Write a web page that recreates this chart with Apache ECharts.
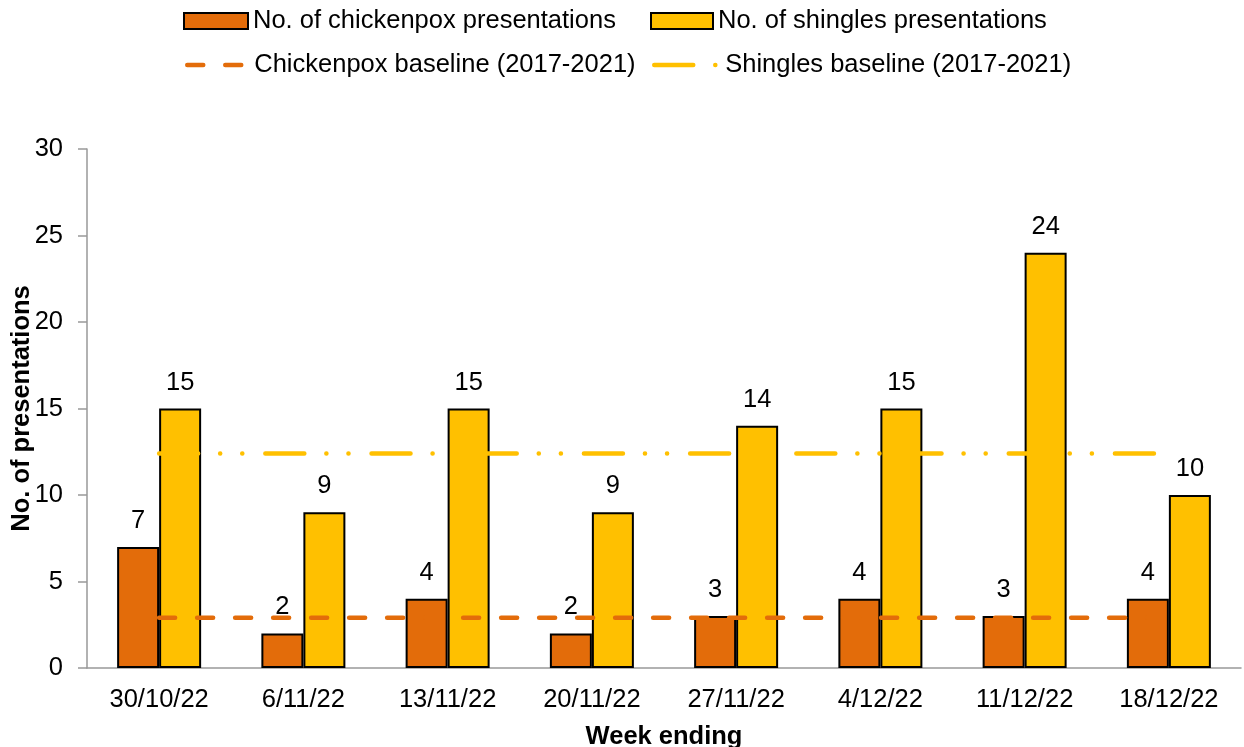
<!DOCTYPE html>
<html lang="en">
<head>
<meta charset="utf-8" />
<style>
    body { margin: 0; background: #fff; overflow: hidden; }
    .box { width: 1244px; height: 747px; }
</style>
</head>
<body>
<div class="box"></div>
<script src="https://cdn.jsdelivr.net/npm/echarts@6/dist/echarts.min.js"></script>
<script>
// data
var weeks = ['30/10/22', '6/11/22', '13/11/22', '20/11/22', '27/11/22', '4/12/22', '11/12/22', '18/12/22'];
var chickenpox = [7, 2, 4, 2, 3, 4, 3, 4];
var shingles = [15, 9, 15, 9, 14, 15, 24, 10];
var chickenpoxBase = [2.9, 2.9, 2.9, 2.9, 2.9, 2.9, 2.9, 2.9];
var shinglesBase = [12.4, 12.4, 12.4, 12.4, 12.4, 12.4, 12.4, 12.4];

var font = 'Liberation Sans, Arial, sans-serif';
var orange = '#E36C0A';
var yellow = '#FFC000';
var fs = 25.5;

var myChart = echarts.init(document.querySelector('.box'));

var legendText = { fontSize: fs, fontFamily: font, color: '#000' };

var option = {
    animation: false,
    legend: [{
        left: 178, top: 3, itemWidth: 64, itemHeight: 16, icon: 'rect',
        itemStyle: { borderColor: '#000', borderWidth: 2 },
        textStyle: legendText, data: ['No. of chickenpox presentations']
    }, {
        left: 645, top: 3, itemWidth: 62, itemHeight: 16, icon: 'rect',
        itemStyle: { borderColor: '#000', borderWidth: 2 },
        textStyle: legendText, data: ['No. of shingles presentations']
    }, {
        left: 180, top: 47, itemWidth: 62, itemHeight: 20,
        itemStyle: { opacity: 0 },   // hide the circle, keep the dashed line
        lineStyle: { width: 4.5, cap: 'round' },
        textStyle: legendText, data: ['Chickenpox baseline (2017-2021)']
    }, {
        left: 647, top: 47, itemWidth: 66, itemHeight: 20,
        itemStyle: { opacity: 0 },
        lineStyle: { width: 4.5, cap: 'round' },
        textStyle: legendText, data: ['Shingles baseline (2017-2021)']
    }],
    grid: {
        left: 87,
        right: 3,
        top: 149,
        bottom: 79,
        outerBoundsMode: 'none'
    },
    xAxis: {
        type: 'category',
        data: weeks,
        name: 'Week ending',
        nameLocation: 'middle',
        nameGap: 56,
        nameTextStyle: { fontSize: fs, fontWeight: 'bold', fontFamily: font, color: '#000' },
        axisLine: { lineStyle: { color: '#999', width: 1.5 } },
        axisTick: { length: 8, lineStyle: { color: '#999', width: 1.5 } },
        axisLabel: { fontSize: fs, fontFamily: font, color: '#000', margin: 19 }
    },
    yAxis: {
        type: 'value',
        min: 0,
        max: 30,
        interval: 5,
        name: 'No. of presentations',
        nameLocation: 'middle',
        nameGap: 52,
        nameMoveOverlap: false,
        nameTextStyle: { fontSize: fs, fontWeight: 'bold', fontFamily: font, color: '#000' },
        axisLine: { show: true, lineStyle: { color: '#999', width: 1.5 } },
        axisTick: { show: true, length: 9, lineStyle: { color: '#999', width: 1.5 } },
        axisLabel: { fontSize: fs, fontFamily: font, color: '#000', margin: 24 },
        splitLine: { show: false }
    },
    series: [{
        name: 'No. of chickenpox presentations',
        type: 'bar',
        data: chickenpox,
        barWidth: 42,
        barGap: '0%',
        itemStyle: { color: orange, borderColor: '#000', borderWidth: 2 },
        label: { show: true, position: 'top', distance: 13, fontSize: fs, fontFamily: font, color: '#000' },
        z: 2
    }, {
        name: 'No. of shingles presentations',
        type: 'bar',
        data: shingles,
        barWidth: 42,
        itemStyle: { color: yellow, borderColor: '#000', borderWidth: 2 },
        label: { show: true, position: 'top', distance: 13, fontSize: fs, fontFamily: font, color: '#000' },
        z: 2
    }, {
        name: 'Chickenpox baseline (2017-2021)',
        type: 'line',
        data: chickenpoxBase,
        symbol: 'none',
        lineStyle: { color: orange, width: 4.5, type: [16, 22], cap: 'round' },
        itemStyle: { color: orange },
        z: 3
    }, {
        name: 'Shingles baseline (2017-2021)',
        type: 'line',
        data: shinglesBase,
        symbol: 'none',
        lineStyle: { color: yellow, width: 4.5, type: [39, 22, 0.1, 22, 0.1, 23], cap: 'round' },
        itemStyle: { color: yellow },
        z: 3
    }]
};

myChart.setOption(option);
</script>
</body>
</html>
